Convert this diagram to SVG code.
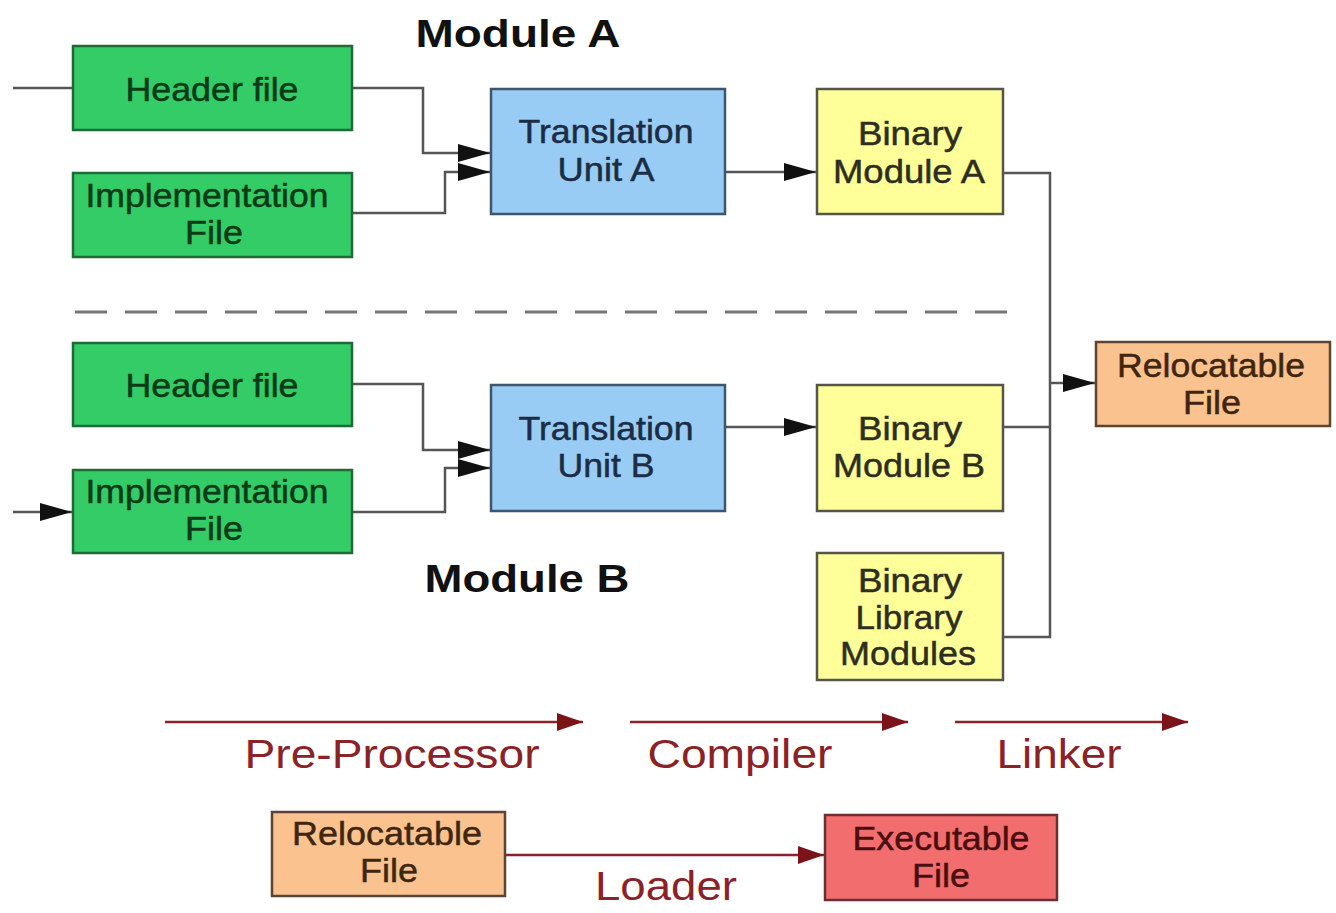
<svg xmlns="http://www.w3.org/2000/svg" width="1336" height="913" viewBox="0 0 1336 913">
  <style>
    text { font-family: "Liberation Sans", Arial, sans-serif; text-anchor: middle; }
    .node { font-size: 33px; }
    .node text { stroke-width: 0.5; }
    .green rect { fill: #33cc66; stroke: #1e6b35; stroke-width: 2.5; }
    .green text { fill: #0b3a18; stroke: #0b3a18; }
    .blue rect { fill: #99ccf5; stroke: #3d5670; stroke-width: 2.5; }
    .blue text { fill: #1c2c44; stroke: #1c2c44; }
    .yellow rect { fill: #ffff99; stroke: #55554a; stroke-width: 2.5; }
    .yellow text { fill: #2e2e1e; stroke: #2e2e1e; }
    .orange rect { fill: #fac28e; stroke: #5a4432; stroke-width: 2.5; }
    .orange text { fill: #3e2610; stroke: #3e2610; }
    .red rect { fill: #f26d6d; stroke: #6a3030; stroke-width: 2.5; }
    .red text { fill: #4a0e0e; stroke: #4a0e0e; }
    .title { font-size: 38px; font-weight: bold; fill: #111; }
    .stage { font-size: 40px; fill: #8a2228; }
    .wire { fill: none; stroke: #555; stroke-width: 2.5; }
    .phase { fill: none; stroke: #8a2228; stroke-width: 2.5; }
  </style>
  <defs>
    <marker id="ahw" markerWidth="32" markerHeight="20" refX="32" refY="10" orient="auto" markerUnits="userSpaceOnUse">
      <path d="M0,1 L32,10 L0,19 Z" fill="#111"/>
    </marker>
    <marker id="ahr" markerWidth="26" markerHeight="20" refX="26" refY="10" orient="auto" markerUnits="userSpaceOnUse">
      <path d="M0,1 L26,10 L0,19 Z" fill="#7a1418"/>
    </marker>
  </defs>

  <rect x="0" y="0" width="1336" height="913" fill="#ffffff"/>

  <!-- section titles -->
  <text class="title" x="518" y="47" textLength="205" lengthAdjust="spacingAndGlyphs">Module A</text>
  <text class="title" x="527" y="592" textLength="205" lengthAdjust="spacingAndGlyphs">Module B</text>

  <!-- separator between module A and module B -->
  <line x1="75" y1="312" x2="1010" y2="312" stroke="#777" stroke-width="3" stroke-dasharray="32,18"/>

  <!-- connectors -->
  <g id="connectors">
    <path class="wire" d="M13,88 H73"/>
    <path class="wire" d="M352,88 H423 V153 H490" marker-end="url(#ahw)"/>
    <path class="wire" d="M352,213 H445 V172 H490" marker-end="url(#ahw)"/>
    <path class="wire" d="M725,172 H816" marker-end="url(#ahw)"/>

    <path class="wire" d="M13,512 H72" marker-end="url(#ahw)"/>
    <path class="wire" d="M352,384 H423 V450 H490" marker-end="url(#ahw)"/>
    <path class="wire" d="M352,512 H445 V468 H490" marker-end="url(#ahw)"/>
    <path class="wire" d="M725,427 H816" marker-end="url(#ahw)"/>

    <path class="wire" d="M1003,173 H1050 V637 H1003"/>
    <path class="wire" d="M1003,427 H1050"/>
    <path class="wire" d="M1050,383 H1095" marker-end="url(#ahw)"/>

    <path class="phase" d="M165,722 H583" marker-end="url(#ahr)"/>
    <path class="phase" d="M630,722 H908" marker-end="url(#ahr)"/>
    <path class="phase" d="M955,722 H1188" marker-end="url(#ahr)"/>
    <path class="phase" d="M505,855 H824" marker-end="url(#ahr)"/>
  </g>

  <!-- module A -->
  <g id="header-a" class="green node">
    <rect x="73" y="46" width="279" height="84"/>
    <text x="212" y="101" textLength="173" lengthAdjust="spacingAndGlyphs">Header file</text>
  </g>
  <g id="impl-a" class="green node">
    <rect x="73" y="173" width="279" height="84"/>
    <text x="207" y="207" textLength="243" lengthAdjust="spacingAndGlyphs">Implementation</text>
    <text x="214" y="244" textLength="58" lengthAdjust="spacingAndGlyphs">File</text>
  </g>
  <g id="tu-a" class="blue node">
    <rect x="491" y="89" width="234" height="125"/>
    <text x="606" y="143" textLength="175" lengthAdjust="spacingAndGlyphs">Translation</text>
    <text x="606" y="181" textLength="97" lengthAdjust="spacingAndGlyphs">Unit A</text>
  </g>
  <g id="bin-a" class="yellow node">
    <rect x="817" y="89" width="186" height="125"/>
    <text x="910" y="145" textLength="104" lengthAdjust="spacingAndGlyphs">Binary</text>
    <text x="909" y="183" textLength="152" lengthAdjust="spacingAndGlyphs">Module A</text>
  </g>

  <!-- module B -->
  <g id="header-b" class="green node">
    <rect x="73" y="343" width="279" height="83"/>
    <text x="212" y="397" textLength="173" lengthAdjust="spacingAndGlyphs">Header file</text>
  </g>
  <g id="impl-b" class="green node">
    <rect x="73" y="470" width="279" height="83"/>
    <text x="207" y="503" textLength="243" lengthAdjust="spacingAndGlyphs">Implementation</text>
    <text x="214" y="540" textLength="58" lengthAdjust="spacingAndGlyphs">File</text>
  </g>
  <g id="tu-b" class="blue node">
    <rect x="491" y="385" width="234" height="126"/>
    <text x="606" y="440" textLength="175" lengthAdjust="spacingAndGlyphs">Translation</text>
    <text x="606" y="477" textLength="97" lengthAdjust="spacingAndGlyphs">Unit B</text>
  </g>
  <g id="bin-b" class="yellow node">
    <rect x="817" y="385" width="186" height="126"/>
    <text x="910" y="440" textLength="104" lengthAdjust="spacingAndGlyphs">Binary</text>
    <text x="909" y="477" textLength="152" lengthAdjust="spacingAndGlyphs">Module B</text>
  </g>
  <g id="bin-lib" class="yellow node">
    <rect x="817" y="553" width="186" height="127"/>
    <text x="910" y="592" textLength="104" lengthAdjust="spacingAndGlyphs">Binary</text>
    <text x="909" y="629" textLength="107" lengthAdjust="spacingAndGlyphs">Library</text>
    <text x="908" y="665" textLength="136" lengthAdjust="spacingAndGlyphs">Modules</text>
  </g>

  <g id="reloc" class="orange node">
    <rect x="1096" y="342" width="234" height="84"/>
    <text x="1211" y="377" textLength="188" lengthAdjust="spacingAndGlyphs">Relocatable</text>
    <text x="1212" y="414" textLength="58" lengthAdjust="spacingAndGlyphs">File</text>
  </g>

  <!-- tool stages -->
  <text class="stage" x="392" y="768" textLength="295" lengthAdjust="spacingAndGlyphs">Pre-Processor</text>
  <text class="stage" x="740" y="768" textLength="185" lengthAdjust="spacingAndGlyphs">Compiler</text>
  <text class="stage" x="1059" y="768" textLength="125" lengthAdjust="spacingAndGlyphs">Linker</text>

  <!-- loading -->
  <g id="reloc-2" class="orange node">
    <rect x="272" y="812" width="233" height="84"/>
    <text x="387" y="845" textLength="190" lengthAdjust="spacingAndGlyphs">Relocatable</text>
    <text x="389" y="882" textLength="58" lengthAdjust="spacingAndGlyphs">File</text>
  </g>
  <g id="exec" class="red node">
    <rect x="825" y="815" width="232" height="85"/>
    <text x="941" y="850" textLength="177" lengthAdjust="spacingAndGlyphs">Executable</text>
    <text x="941" y="887" textLength="58" lengthAdjust="spacingAndGlyphs">File</text>
  </g>
  <text class="stage" x="666" y="900" textLength="142" lengthAdjust="spacingAndGlyphs">Loader</text>
</svg>
